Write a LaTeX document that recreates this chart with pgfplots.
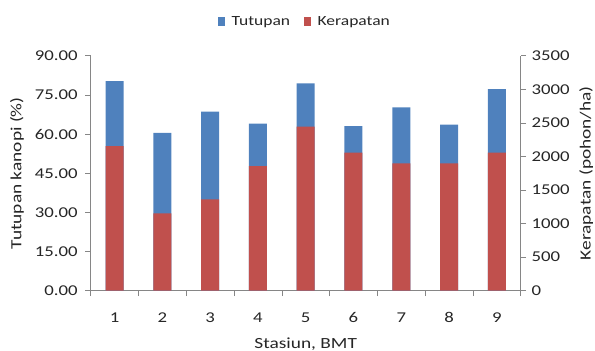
\documentclass[border=0pt]{standalone}
\usepackage{fontspec}
\setmainfont{Carlito}[FakeStretch=1.25]
\usepackage{pgfplots}
\pgfplotsset{compat=1.18}

\definecolor{tutupan}{HTML}{4F81BD}
\definecolor{kerapatan}{HTML}{C0504D}
\definecolor{axisgray}{HTML}{868686}

\pgfplotsset{
  frame/.style={
    scale only axis,
    width=430bp, height=235bp,
    at={(90.7bp,60.3bp)}, anchor=south west,
    xmin=0.5, xmax=9.5, ymin=0,
    ybar, bar width=18bp,
    tick align=outside,
    major tick length=5.5bp, minor tick length=5.5bp,
    every tick/.style={axisgray, line width=0.6pt},
    axis line style={axisgray, line width=0.6pt},
    /pgf/number format/assume math mode=true,
    tick label style={font=\fontsize{15bp}{18bp}\selectfont, text=black!85},
    label style={font=\fontsize{15.5bp}{18bp}\selectfont, text=black!85},
  },
}

\begin{document}
\begin{tikzpicture}
\useasboundingbox (0,0) rectangle (595bp,351bp);

% Tutupan kanopi (%) on the left axis
\begin{axis}[
  frame,
  ymax=90,
  axis x line*=bottom, axis y line*=left,
  xtick={1,...,9},
  major x tick style={draw=none},
  minor xtick={0.5,1.5,...,9.5},
  ytick={0,15,...,90},
  yticklabel style={
    /pgf/number format/fixed,
    /pgf/number format/fixed zerofill,
    /pgf/number format/precision=2,
    xshift=-4bp},
  xticklabel style={yshift=-13bp},
  ylabel={Tutupan kanopi (\%)},
  ylabel style={at={(axis description cs:-0.1714,0.5)}, anchor=center},
  xlabel={Stasiun, BMT},
  xlabel style={at={(axis description cs:0.5,-0.2268)}, anchor=center},
]
\addplot[fill=tutupan, draw=none] coordinates {
  (1,80.3) (2,60.4) (3,68.6) (4,64.0) (5,79.4)
  (6,63.0) (7,70.2) (8,63.6) (9,77.2)
};
\end{axis}

% Kerapatan (pohon/ha) on the right axis
\begin{axis}[
  frame,
  ymax=3500,
  axis y line*=right, axis x line=none,
  ytick={0,500,...,3500},
  yticklabel style={/pgf/number format/1000 sep={}, xshift=2bp},
  ylabel={Kerapatan (pohon/ha)},
  ylabel style={at={(axis description cs:1.1525,0.5)}, anchor=center},
  legend style={
    at={(axis description cs:0.4984,1.145)}, anchor=center,
    draw=none, fill=none,
    legend columns=2,
    font=\fontsize{14bp}{16bp}\selectfont,
    nodes={font=\fontsize{14bp}{16bp}\selectfont, text=black!85},
    /tikz/every odd column/.append style={column sep=5bp},
    /tikz/every even column/.append style={column sep=12bp},
    inner sep=0pt,
  },
  legend cell align=left,
  legend image code/.code={\path[#1, draw=none] (0bp,-4.5bp) rectangle (6.5bp,4.5bp);},
]
\addlegendimage{fill=tutupan}
\addlegendentry{Tutupan}
\addplot[fill=kerapatan, draw=none] coordinates {
  (1,2155) (2,1152) (3,1361) (4,1857) (5,2442)
  (6,2055) (7,1897) (8,1897) (9,2055)
};
\addlegendentry{Kerapatan}
\end{axis}
\end{tikzpicture}
\end{document}
